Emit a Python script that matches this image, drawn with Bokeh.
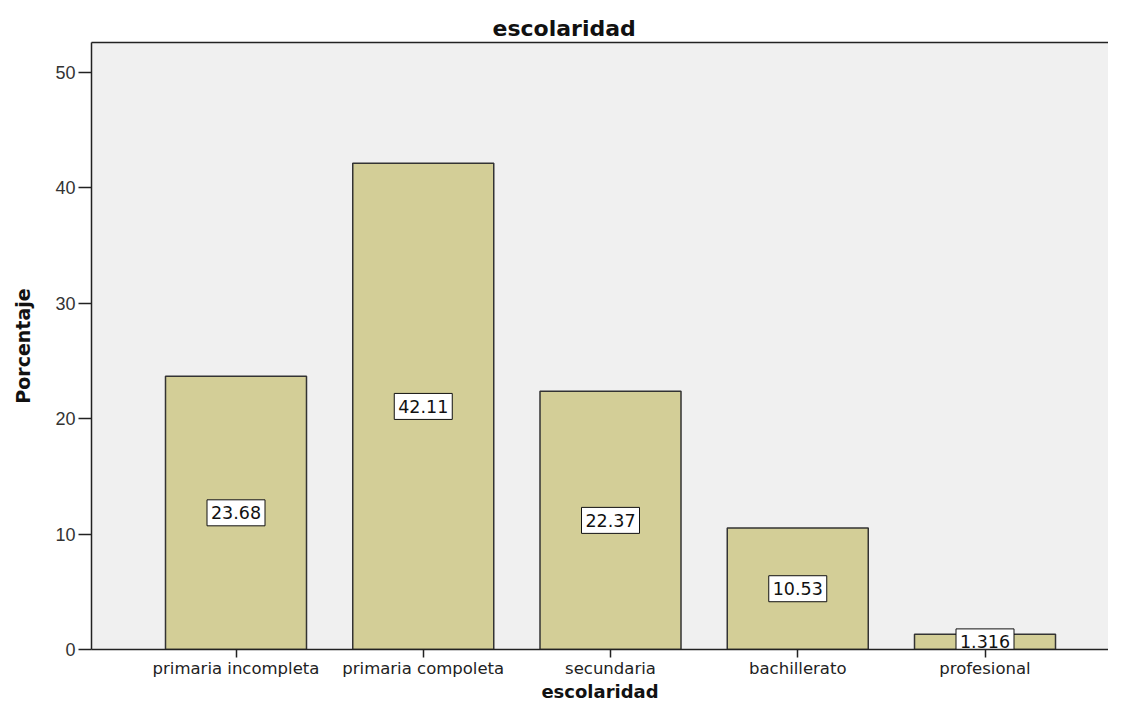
from bokeh.plotting import figure
from bokeh.models import Range1d, FixedTicker, LinearAxis, ColumnDataSource
from bokeh.core.properties import value
from bokeh.embed import file_html
from bokeh.resources import INLINE

categories = ["primaria incompleta", "primaria compoleta", "secundaria", "bachillerato", "profesional"]
percentages = [23.68, 42.11, 22.37, 10.53, 1.316]
y_ticks = [0, 10, 20, 30, 40, 50]
x_title = "escolaridad"
y_title = "Porcentaje"

positions = list(range(len(categories)))
labels = [f"{v:.4g}" for v in percentages]
mids = [v / 2 for v in percentages]

src = ColumnDataSource(dict(x=positions, top=percentages, mid=mids, label=labels))

p = figure(width=1108, height=704, output_backend="svg", toolbar_location=None,
           x_range=Range1d(-0.7717, 4.6595), y_range=Range1d(0, 52.58),
           min_border_left=91, min_border_right=0, min_border_top=42, min_border_bottom=50,
           title="escolaridad")
p.background_fill_color = "#F0F0F0"
p.border_fill_color = "white"
p.outline_line_color = None
p.grid.visible = False

xa = p.below[0]
ya = p.left[0]

# title
p.title.text_font = "DejaVu Sans"
p.title.text_font_style = "bold"
p.title.text_font_size = "22px"
p.title.text_color = "#111111"
p.title.align = "left"
p.title.offset = 401
p.title.standoff = 4

# bars
p.vbar(x="x", top="top", width=0.753, source=src, fill_color="#D3CE97",
       line_color="#333333", line_width=1.5)

# value boxes
p.rect(x="x", y="mid", width=58, height=26, width_units="screen", height_units="screen",
       source=src, fill_color="white", line_color="#111111", line_width=1)
p.text(x="x", y="mid", text="label", source=src, text_align="center", text_baseline="middle",
       text_font=value("DejaVu Sans"), text_font_size="17.5px", text_color="#111111")

# x axis
xa.ticker = FixedTicker(ticks=positions)
xa.major_label_overrides = {i: c for i, c in enumerate(categories)}
xa.major_label_text_font = "DejaVu Sans"
xa.major_label_text_font_size = "16.5px"
xa.major_label_text_color = "#222222"
xa.major_label_standoff = 1
xa.major_tick_in = 0
xa.major_tick_out = 8
xa.major_tick_line_width = 1.5
xa.major_tick_line_color = "#222222"
xa.minor_tick_line_color = None
xa.axis_line_color = "#222222"
xa.axis_line_width = 1.5
xa.axis_label = x_title
xa.axis_label_text_font = "DejaVu Sans"
xa.axis_label_text_font_style = "bold"
xa.axis_label_text_font_size = "18px"
xa.axis_label_text_color = "#111111"
xa.axis_label_standoff = 0

# y axis
ya.ticker = FixedTicker(ticks=y_ticks)
ya.major_label_text_font = "Liberation Sans"
ya.major_label_text_font_size = "18px"
ya.major_label_text_color = "#333333"
ya.major_label_standoff = 3
ya.major_tick_in = 0
ya.major_tick_out = 13
ya.major_tick_line_width = 1.5
ya.major_tick_line_color = "#222222"
ya.minor_tick_line_color = None
ya.axis_line_color = "#222222"
ya.axis_line_width = 1.5
ya.axis_label = y_title
ya.axis_label_text_font = "DejaVu Sans"
ya.axis_label_text_font_style = "bold"
ya.axis_label_text_font_size = "19px"
ya.axis_label_text_color = "#111111"
ya.axis_label_standoff = 18

# top border line
top_axis = LinearAxis(ticker=FixedTicker(ticks=[]), axis_line_color="#222222", axis_line_width=1.5,
                      major_tick_line_color=None, minor_tick_line_color=None)
p.add_layout(top_axis, "above")

open("out.html", "w").write(file_html(p, INLINE))
